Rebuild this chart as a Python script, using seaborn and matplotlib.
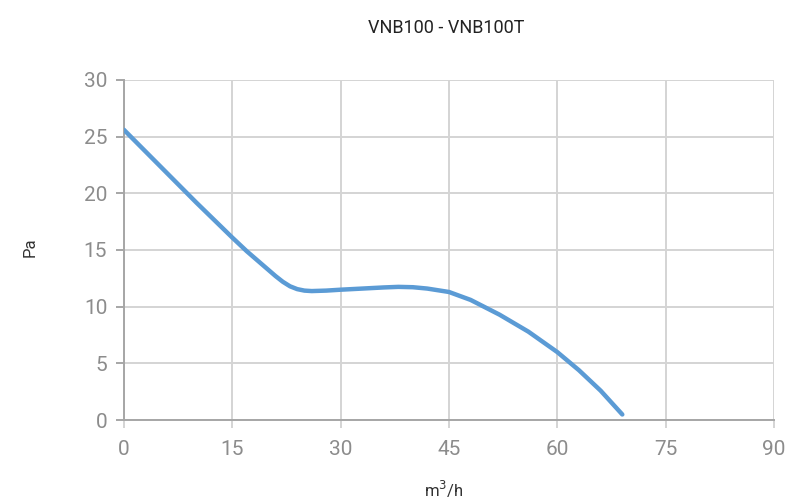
import numpy as np
import pandas as pd
import seaborn as sns
import matplotlib.pyplot as plt

# readings
flow = [0, 5, 10, 15, 17, 19, 20, 21, 22, 23, 24, 25, 26, 28, 30, 33, 36, 38, 40, 42, 45, 48, 52, 56, 60, 63, 66, 69]
pressure = [25.6, 22.4, 19.2, 16.1, 14.9, 13.8, 13.25, 12.7, 12.2, 11.8, 11.55, 11.42, 11.38, 11.42, 11.5, 11.6, 11.7, 11.75, 11.72, 11.6, 11.3, 10.6, 9.3, 7.8, 6.0, 4.4, 2.6, 0.5]
xticks = [0, 15, 30, 45, 60, 75, 90]
yticks = [0, 5, 10, 15, 20, 25, 30]

df = pd.DataFrame({'q': flow, 'p': pressure})

sns.set_theme(style='white')
plt.rcParams['font.family'] = ['Roboto', 'DejaVu Sans']

fig = plt.figure(figsize=(7.89, 4.99), dpi=100)
ax = fig.add_axes([0.157, 0.158, 0.824, 0.682])

sns.lineplot(data=df, x='q', y='p', ax=ax, color='#5b9bd5', linewidth=3.2, zorder=3)

ax.set_xlim(0, 90)
ax.set_ylim(0, 30)
ax.set_xticks(xticks)
ax.set_yticks(yticks)
ax.grid(True, color='#d4d4d4', linewidth=1.4)
for s in ['top', 'right']:
    ax.spines[s].set_visible(False)
for s in ['left', 'bottom']:
    ax.spines[s].set_color('#a6a6a6')
    ax.spines[s].set_linewidth(1.4)
ax.tick_params(axis='x', length=6, width=1.4, color='#d4d4d4', labelsize=15, labelcolor='#8c8c8c', pad=8)
ax.tick_params(axis='y', length=6, width=1.4, color='#a6a6a6', labelsize=15, labelcolor='#8c8c8c', pad=6)
ax.tick_params(bottom=True, left=True)

ax.set_xlabel('')
ax.set_ylabel('')
fig.text(444 / 789, 1 - 489 / 499, 'm$^3$/h', fontsize=12, color='#333333', ha='center', va='center')
fig.text(30 / 789, 1 - 247 / 499, 'Pa', fontsize=12, color='#333333', ha='center', va='center', rotation=90)
fig.text(446 / 789, 1 - 28 / 499, 'VNB100 - VNB100T', fontsize=13, color='#222222', ha='center', va='center')

fig.savefig('out.png', dpi=100)
